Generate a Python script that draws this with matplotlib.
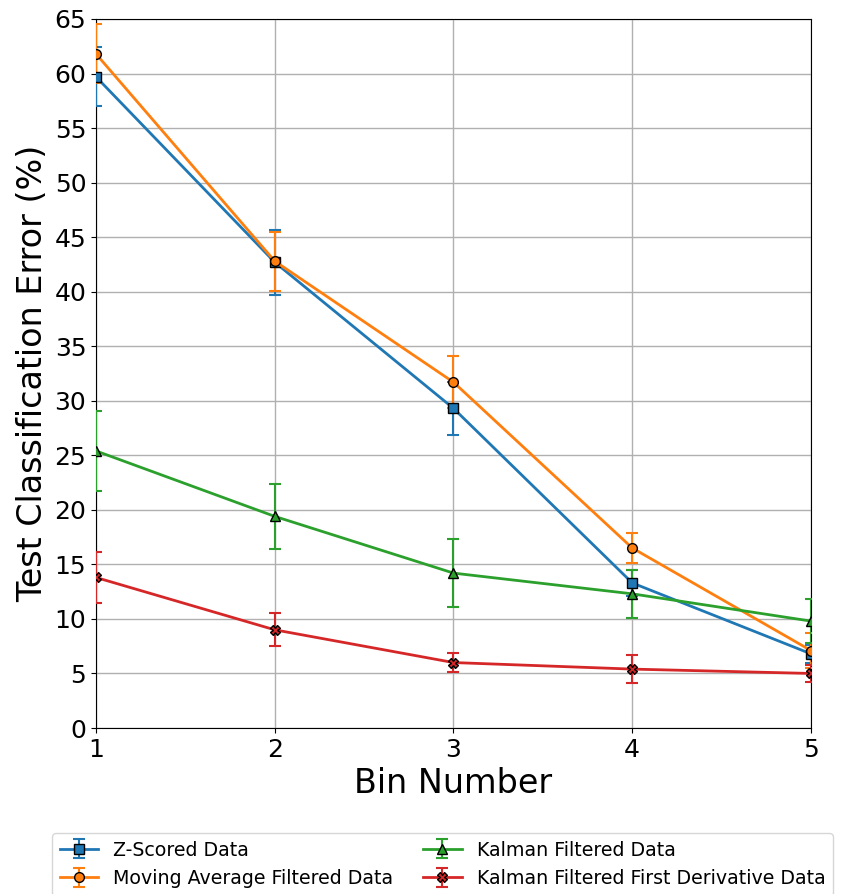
import matplotlib.pyplot as plt
import numpy as np

bins = [1, 2, 3, 4, 5]

zscored = [59.7, 42.7, 29.3, 13.3, 6.8]
zscored_err = [2.7, 3.0, 2.4, 1.2, 0.8]

moving_avg = [61.8, 42.8, 31.7, 16.5, 7.1]
moving_avg_err = [2.7, 2.7, 2.4, 1.4, 1.6]

kalman = [25.4, 19.4, 14.2, 12.3, 9.8]
kalman_err = [3.7, 3.0, 3.1, 2.2, 2.0]

kalman_deriv = [13.8, 9.0, 6.0, 5.4, 5.0]
kalman_deriv_err = [2.3, 1.5, 0.9, 1.3, 0.8]

labels = ['Z-Scored Data', 'Moving Average Filtered Data',
          'Kalman Filtered Data', 'Kalman Filtered First Derivative Data']

fig = plt.figure(figsize=(8.53, 8.94), dpi=100)
ax = fig.add_axes([96/853, 1-728/894, (811-96)/853, (728-19)/894])

series = [(zscored, zscored_err, 's', '#1f77b4'),
          (moving_avg, moving_avg_err, 'o', '#ff7f0e'),
          (kalman, kalman_err, '^', '#2ca02c'),
          (kalman_deriv, kalman_deriv_err, 'X', '#d62728')]

for (vals, errs, mk, col), lab in zip(series, labels):
    ax.errorbar(bins, vals, yerr=errs, marker=mk, color=col, mec='black',
                ms=7, lw=2, capsize=4, elinewidth=1.5, capthick=1.5,
                label=lab, zorder=3)

ax.set_xlim(1, 5)
ax.set_ylim(0, 65)
ax.set_xticks(bins)
ax.set_yticks(np.arange(0, 70, 5))
ax.tick_params(labelsize=18)
ax.grid(True, color='#b0b0b0', lw=1)
ax.set_xlabel('Bin Number', fontsize=24)
ax.set_ylabel('Test Classification Error (%)', fontsize=24)

h, l = ax.get_legend_handles_labels()
fig.legend(h, l, loc='upper left', bbox_to_anchor=(52/853, 1-833/894),
           ncol=2, fontsize=13.7, borderaxespad=0, handlelength=2,
           columnspacing=1.6)

fig.savefig('out.png', dpi=100)
